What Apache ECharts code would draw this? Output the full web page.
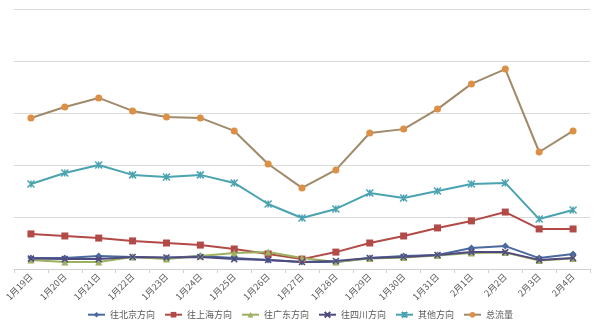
<!DOCTYPE html>
<html>
<head>
<meta charset="utf-8">
<script src="https://cdn.jsdelivr.net/npm/echarts@6/dist/echarts.min.js"></script>
<style>
html,body{margin:0;padding:0;background:#fff;}
#chart{width:600px;height:331px;}
</style>
</head>
<body>
<div id="chart"></div>
<script>
// Daily traffic by direction, 1月19日 – 2月4日
const dates = ['1月19日','1月20日','1月21日','1月22日','1月23日','1月24日','1月25日','1月26日','1月27日','1月28日','1月29日','1月30日','1月31日','2月1日','2月2日','2月3日','2月4日'];
const beijing   = [4.2, 4.2, 5.0, 4.6, 4.2, 5.0, 4.2, 3.5, 2.7, 2.7, 4.2, 5.0, 5.4, 8.1, 8.8, 4.2, 5.8];
const shanghai  = [13.5, 12.7, 11.9, 10.8, 10.0, 9.2, 7.7, 5.8, 3.8, 6.5, 10.0, 12.7, 15.8, 18.5, 21.9, 15.4, 15.4];
const guangdong = [3.5, 2.7, 2.7, 4.6, 3.8, 5.0, 6.2, 6.5, 4.2, 2.7, 4.0, 4.4, 5.2, 6.2, 6.3, 3.3, 4.0];
const sichuan   = [4.0, 3.8, 3.8, 4.6, 4.4, 4.6, 3.8, 3.5, 2.7, 3.1, 4.2, 4.6, 5.4, 6.5, 6.5, 3.5, 4.2];
const other     = [32.7, 36.9, 40.0, 36.2, 35.4, 36.2, 33.1, 25.0, 19.6, 23.1, 29.2, 27.3, 30.0, 32.7, 33.1, 19.2, 22.7];
const total     = [58.1, 62.3, 65.8, 60.8, 58.5, 58.1, 53.1, 40.4, 31.2, 38.1, 52.3, 53.8, 61.5, 71.2, 76.9, 45.0, 53.1];

const chart = echarts.init(document.getElementById('chart'));

function line(name, data, color, symbol, size, extra) {
  return Object.assign({
    name: name,
    type: 'line',
    data: data,
    symbol: symbol,
    symbolSize: size,
    lineStyle: { color: color, width: 2 },
    itemStyle: { color: color },
    emphasis: { disabled: true },
    animation: false
  }, extra || {});
}

// Excel-style cross markers
const xMark = 'path://M0,0L10,10M10,0L0,10';
const starMark = 'path://M0,0L10,10M10,0L0,10M5,0L5,10';

chart.setOption({
  backgroundColor: '#ffffff',
  grid: { left: 14, right: 10, top: 9, bottom: 62 },
  legend: {
    bottom: 6,
    left: 'center',
    itemWidth: 17,
    itemHeight: 7,
    itemGap: 9,
    textStyle: { fontSize: 9, color: '#595959', fontFamily: 'Noto Sans CJK SC' },
    data: ['往北京方向','往上海方向','往广东方向','往四川方向','其他方向','总流量']
  },
  xAxis: {
    type: 'category',
    data: dates,
    boundaryGap: true,
    axisLine: { lineStyle: { color: '#d0d0d0' } },
    axisTick: { show: true, lineStyle: { color: '#d0d0d0' }, length: 4 },
    axisLabel: {
      rotate: 45,
      fontSize: 9,
      color: '#595959',
      margin: 6,
      interval: 0,
      fontFamily: 'Noto Sans CJK SC'
    }
  },
  yAxis: {
    type: 'value',
    min: 0,
    max: 100,
    interval: 20,
    axisLine: { show: false },
    axisTick: { show: false },
    axisLabel: { show: false },
    splitLine: { lineStyle: { color: '#d9d9d9', width: 1 } }
  },
  series: [
    line('往北京方向', beijing, '#4a6a9f', 'diamond', 7),
    line('往上海方向', shanghai, '#b24a47', 'rect', 7),
    line('往广东方向', guangdong, '#9bb060', 'triangle', 7),
    line('往四川方向', sichuan, '#4e4a7f', xMark, 6, {
      itemStyle: { color: 'none', borderColor: '#4e4a7f', borderWidth: 1.5 }
    }),
    line('其他方向', other, '#4aa3b0', starMark, 7, {
      itemStyle: { color: 'none', borderColor: '#4aa3b0', borderWidth: 1.5 }
    }),
    line('总流量', total, '#dd8f46', 'circle', 7, {
      lineStyle: { color: '#a08a6a', width: 2 },
      itemStyle: { color: '#dd8f46' }
    })
  ]
});
</script>
</body>
</html>
